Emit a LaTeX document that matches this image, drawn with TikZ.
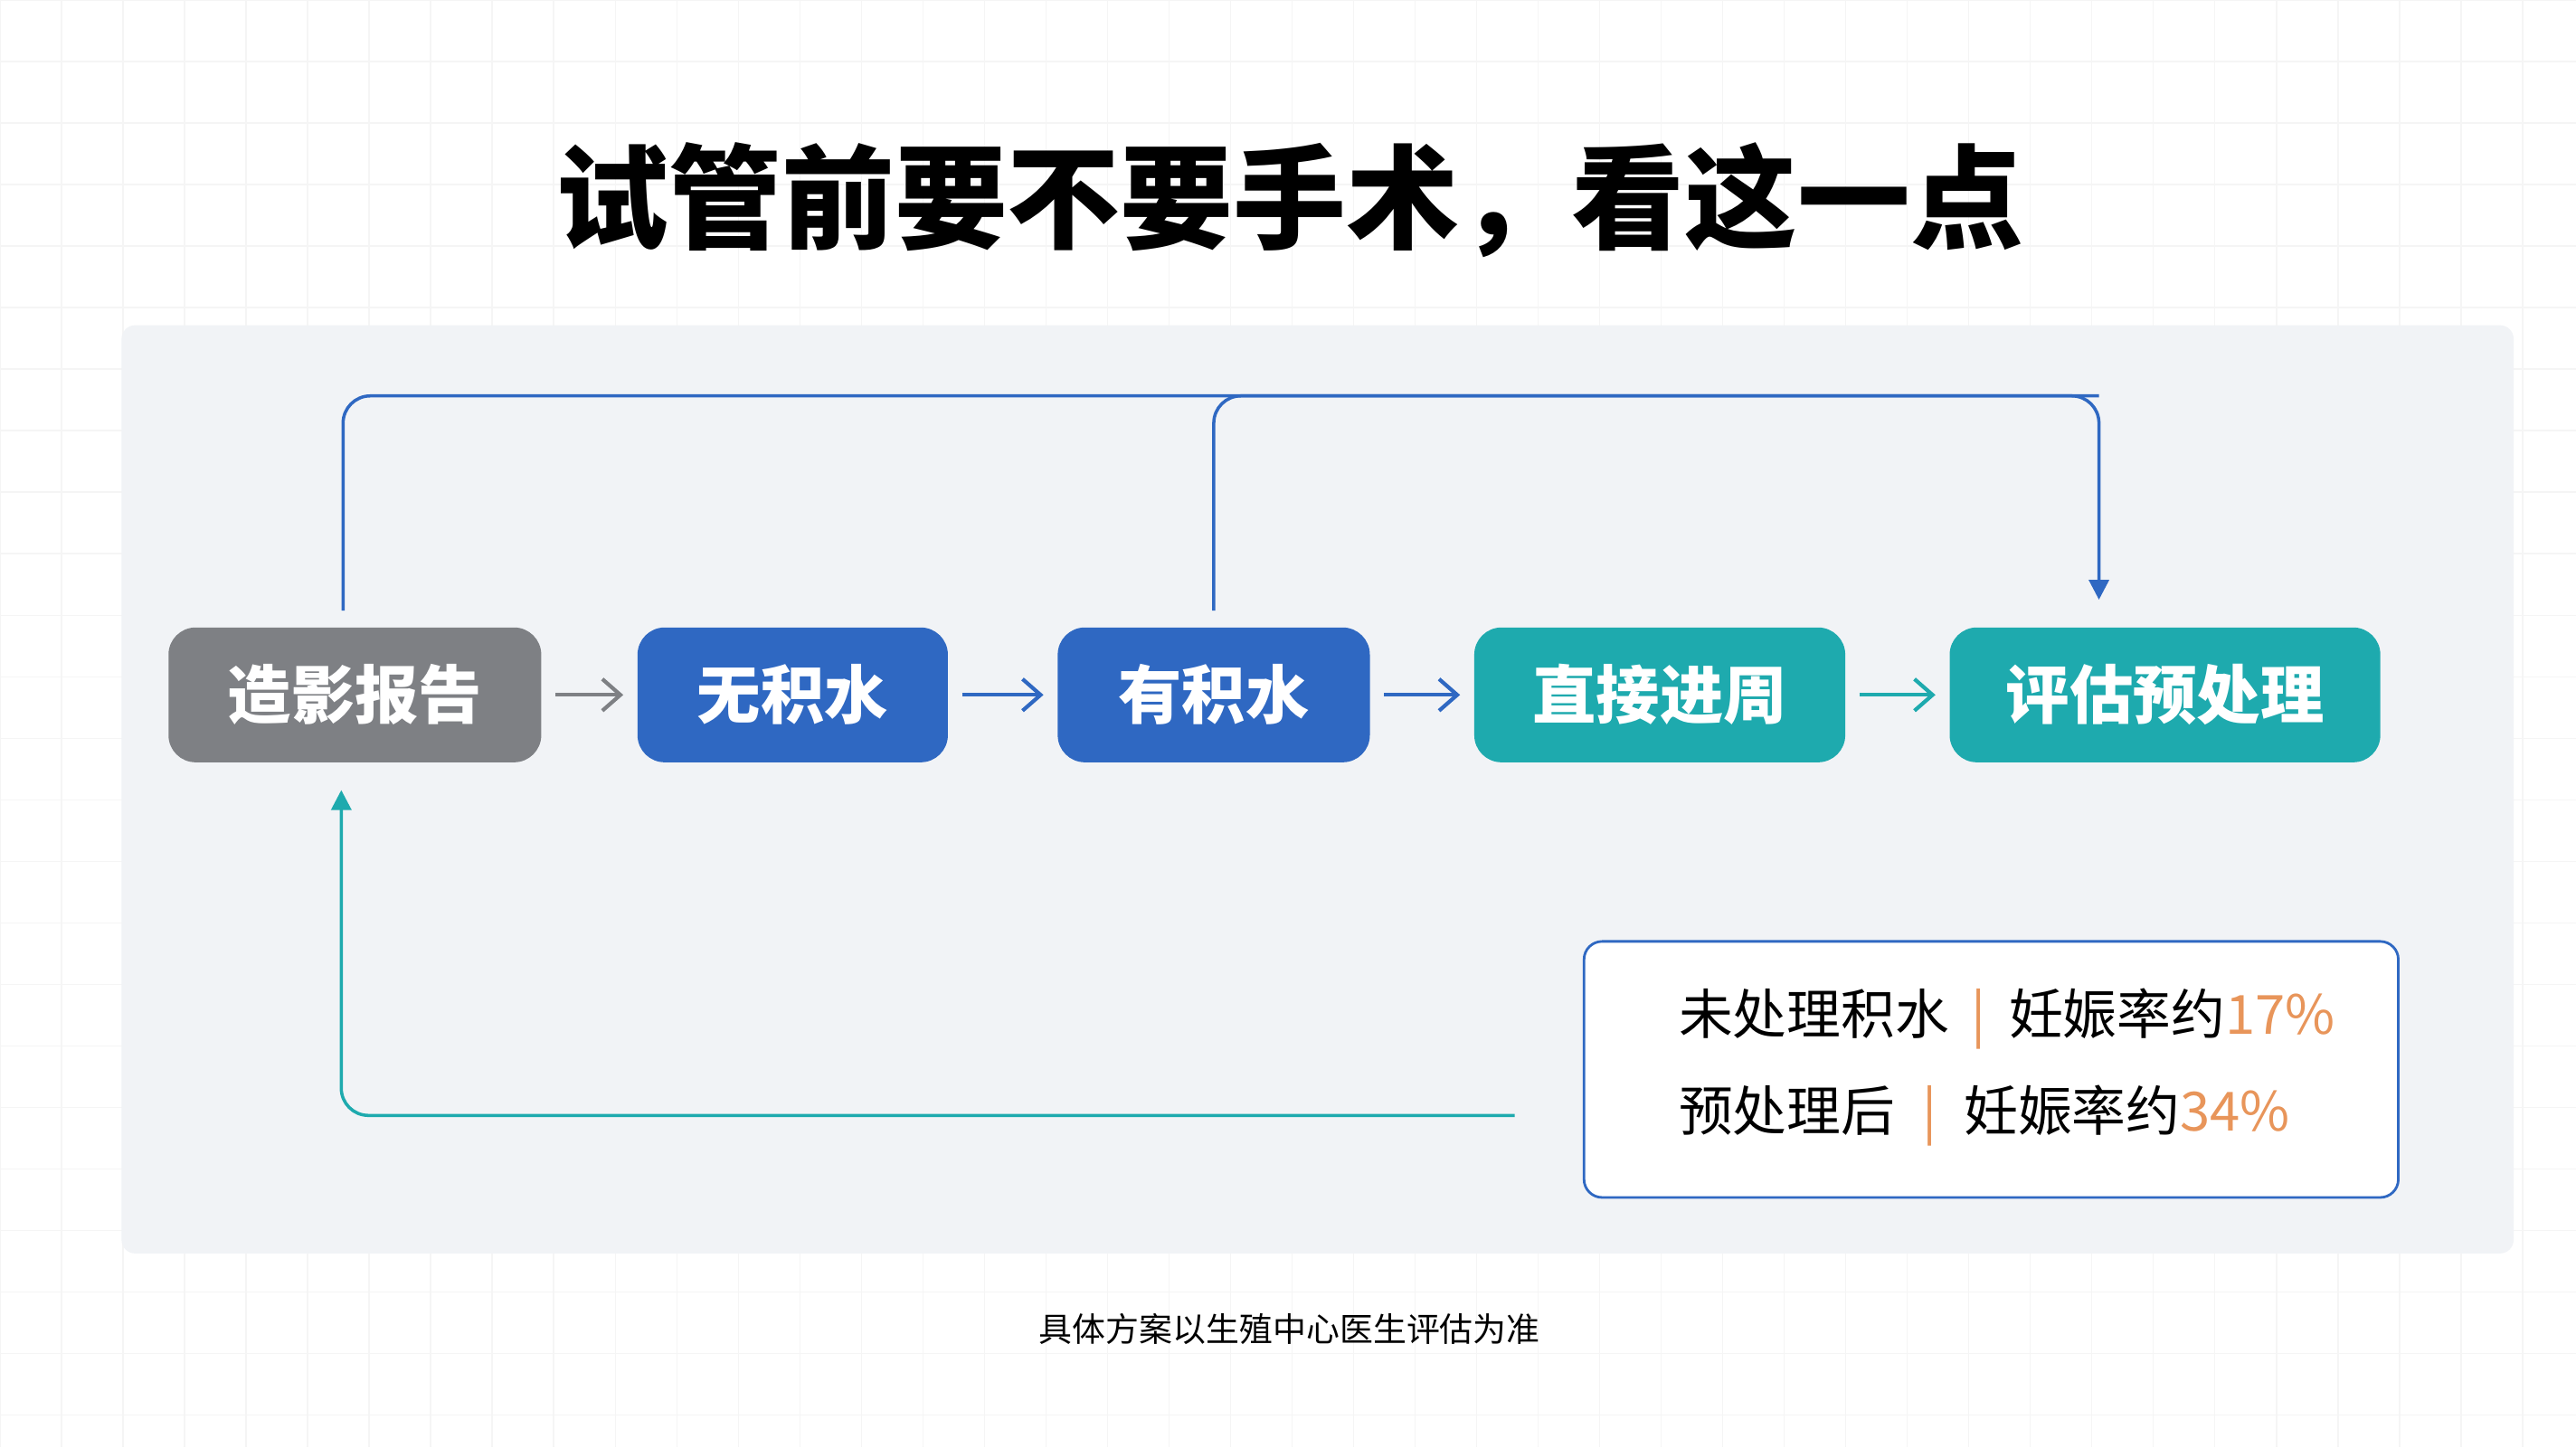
\documentclass[tikz,border=0pt]{standalone}
\usepackage{fontspec}
\setmainfont{Noto Sans CJK SC}
\usepackage{xcolor}
\usetikzlibrary{positioning,arrows.meta}
\definecolor{rep-gray}{HTML}{7E8084}
\definecolor{step-blue}{HTML}{2F68C2}
\definecolor{step-teal}{HTML}{1EAAAE}
\definecolor{rate-orange}{HTML}{E8955A}
\definecolor{panel-gray}{HTML}{F1F3F6}

\begin{document}
\begin{tikzpicture}[
    x=0.01816cm, y=-0.01816cm,
    stage/.style={rectangle, rounded corners=0.3cm, minimum height=1.49cm, text=white, font=\fontsize{20}{24}\selectfont\bfseries, align=center},
    flow/.style={-{Straight Barb[length=0.2cm,width=0.35cm]}, line width=1.2pt, shorten <=0.15cm, shorten >=0.15cm},
    loop/.style={-{Triangle[length=0.22cm,width=0.22cm]}, line width=1pt, rounded corners=0.3cm},
    info/.style={rectangle, draw=step-blue, line width=0.8pt, fill=white, rounded corners=0.2cm, minimum width=9.0cm, minimum height=2.83cm},
    rate/.style={anchor=west, font=\fontsize{17}{20}\selectfont}
]
\useasboundingbox (0,0) rectangle (1568,881);
\fill[white] (0,0) rectangle (1568,881);
\draw[gray!8, step=0.68cm] (0,0) grid (1568,881);
\fill[panel-gray, rounded corners=0.15cm] (74,198) rectangle (1530,763);

% Title
\node[font=\fontsize{35.5}{42}\selectfont\bfseries] (title) at (785,122) {试管前要不要手术，看这一点};

% Stages
\node[stage, fill=rep-gray, minimum width=4.12cm] (report) at (216,423) {造影报告};
\node[stage, fill=step-blue, minimum width=3.43cm, right=1.05cm of report] (nofluid) {无积水};
\node[stage, fill=step-blue, minimum width=3.45cm, right=1.2cm of nofluid] (fluid) {有积水};
\node[stage, fill=step-teal, minimum width=4.1cm, right=1.14cm of fluid] (direct) {直接进周};
\node[stage, fill=step-teal, minimum width=4.76cm, right=1.14cm of direct] (pretreat) {评估预处理};

\draw[flow, rep-gray] (report) -- (nofluid);
\draw[flow, step-blue] (nofluid) -- (fluid);
\draw[flow, step-blue] (fluid) -- (direct);
\draw[flow, step-teal] (direct) -- (pretreat);

% Top loops
\coordinate (topline) at (0,241);
\coordinate (drop) at ([xshift=-0.73cm]pretreat.north);
\draw[loop, step-blue, shorten <=0.18cm, shorten >=0.3cm] ([xshift=-0.13cm]report.north) |- (drop |- topline) -- (drop);
\draw[loop, step-blue, -, shorten <=0.18cm] (fluid.north) |- (drop |- topline);

% Rates
\node[info] (ratebox) at (1212,651) {};
\node[rate] (rate1) at (1015,620) {未处理积水\hspace{0.25cm}\textcolor{rate-orange}{|}\hspace{0.25cm}妊娠率约\textcolor{rate-orange}{17\%}};
\node[rate] (rate2) at (1015,679) {预处理后\hspace{0.3cm}\textcolor{rate-orange}{|}\hspace{0.3cm}妊娠率约\textcolor{rate-orange}{34\%}};

% Back loop
\coordinate (backstart) at (922,679);
\draw[loop, step-teal, shorten >=0.3cm] (backstart) -| ([xshift=-0.15cm]report.south);

% Footer
\node[font=\fontsize{10.5}{13}\selectfont] (note) at (785,809) {具体方案以生殖中心医生评估为准};
\end{tikzpicture}
\end{document}
